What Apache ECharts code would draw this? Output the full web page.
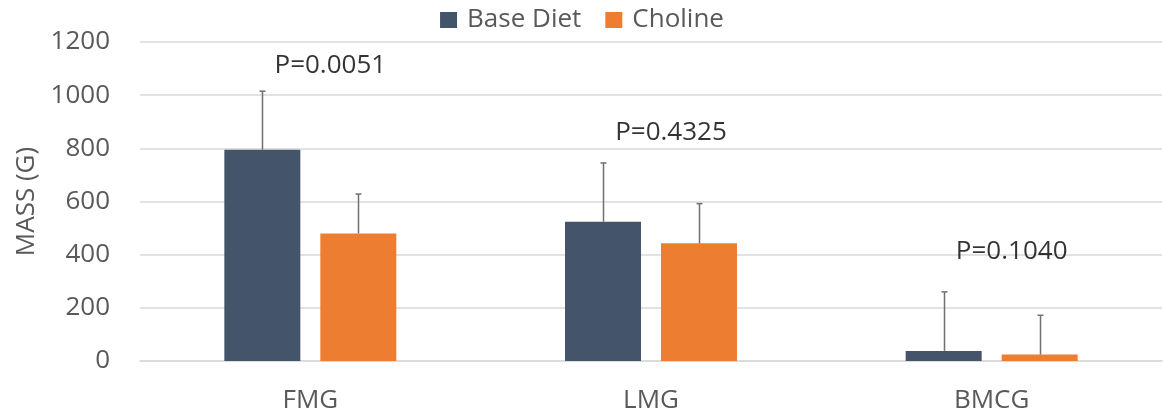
<!DOCTYPE html>
<html>
<head>
<meta charset="utf-8">
<script src="https://cdn.jsdelivr.net/npm/echarts@6/dist/echarts.min.js"></script>
<style>
  html, body { margin: 0; padding: 0; background: #fff; }
  #chart { width: 1164px; height: 413px; }
</style>
</head>
<body>
<div id="chart"></div>
<script>
// groups and values
var categories = ['FMG', 'LMG', 'BMCG'];
var baseDiet = [795, 524, 38];
var baseDietErr = [220, 221, 222];
var choline = [480, 443, 24];
var cholineErr = [148, 149, 148];
var pTexts = ['P=0.0051', 'P=0.4325', 'P=0.1040'];
var pLabelY = [1110, 858, 410];
var yTicks = [0, 1200, 200];

var BAR_W = 76, BAR_GAP = 20;
var font = '"Open Sans", "Noto Sans", sans-serif';
var grey = '#595959';

function errorSeries(means, errs, side) {
	var data = [];
	for (var i = 0; i < means.length; i++) {
		data.push([i, means[i], means[i] + errs[i]]);
	}
	return {
		type: 'custom',
		z: 5,
		silent: true,
		data: data,
		renderItem: function (params, api) {
			var lo = api.coord([api.value(0), api.value(1)]);
			var hi = api.coord([api.value(0), api.value(2)]);
			var x = Math.round(lo[0] + side * (BAR_W + BAR_GAP) / 2) + 0.5;
			var style = { stroke: '#6f6f6f', lineWidth: 1.5 };
			return {
				type: 'group',
				children: [
					{ type: 'line', shape: { x1: x, y1: lo[1], x2: x, y2: hi[1] }, style: style },
					{ type: 'line', shape: { x1: x - 3, y1: hi[1], x2: x + 3, y2: hi[1] }, style: style }
				]
			};
		}
	};
}

var pData = [];
for (var i = 0; i < categories.length; i++) pData.push([i, pLabelY[i]]);

var chart = echarts.init(document.getElementById('chart'));
chart.setOption({
	animation: false,
	textStyle: { fontFamily: font },
	legend: {
		top: 2,
		left: 'center',
		itemWidth: 17,
		itemHeight: 16,
		itemGap: 24,
		icon: 'rect',
		textStyle: { fontSize: 26, color: grey, fontFamily: font, padding: [0, 0, 0, 5] },
		data: ['Base Diet', 'Choline']
	},
	grid: { left: 140, right: 2, top: 42, bottom: 52, outerBoundsMode: 'none' },
	xAxis: {
		type: 'category',
		data: categories,
		axisTick: { show: false },
		axisLine: { lineStyle: { color: '#d9d9d9', width: 1.5 } },
		axisLabel: { fontSize: 26, color: grey, margin: 27, fontFamily: font }
	},
	yAxis: {
		type: 'value',
		min: yTicks[0],
		max: yTicks[1],
		interval: yTicks[2],
		name: 'MASS (G)',
		nameLocation: 'middle',
		nameGap: 90,
		nameTextStyle: { fontSize: 26, color: grey, fontFamily: font },
		axisLabel: {
			fontSize: 26, color: grey, margin: 30, fontFamily: font,
			formatter: function (v) { return String(v); }
		},
		splitLine: { lineStyle: { color: '#d9d9d9', width: 1.5 } }
	},
	series: [
		{
			name: 'Base Diet',
			type: 'bar',
			data: baseDiet,
			barWidth: BAR_W,
			barGap: (BAR_GAP / BAR_W * 100).toFixed(1) + '%',
			itemStyle: { color: '#44546a' }
		},
		{
			name: 'Choline',
			type: 'bar',
			data: choline,
			barWidth: BAR_W,
			itemStyle: { color: '#ed7d31' }
		},
		errorSeries(baseDiet, baseDietErr, -1),
		errorSeries(choline, cholineErr, 1),
		{
			type: 'scatter',
			symbolSize: 0,
			silent: true,
			data: pData,
			label: {
				show: true,
				position: 'inside',
				offset: [20, 0],
				fontSize: 26,
				color: '#000',
				fontFamily: font,
				formatter: function (p) { return pTexts[p.dataIndex]; }
			}
		}
	]
});
</script>
</body>
</html>
